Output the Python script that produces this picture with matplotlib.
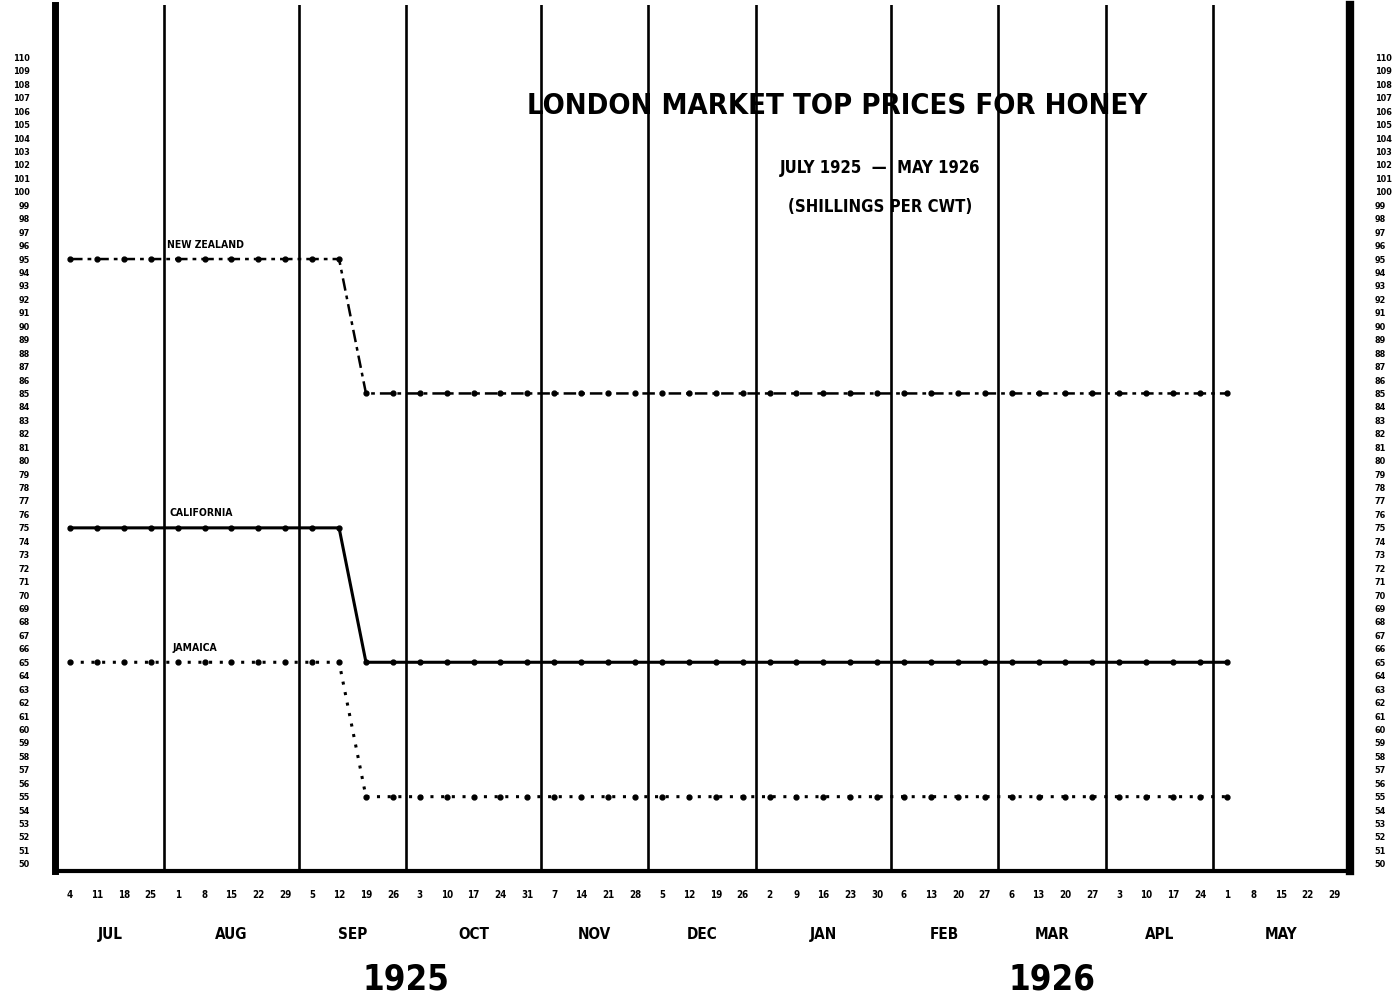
import matplotlib
matplotlib.use("Agg")
import matplotlib.pyplot as plt

# Narrow bold lettering, closest to the hand-drawn original
plt.rcParams['font.family'] = ['DejaVu Sans']
plt.rcParams['font.stretch'] = 'condensed'
plt.rcParams['font.weight'] = 'bold'

# Saturdays, July 1925 - May 1926 (one tick per week)
day_labels = [4, 11, 18, 25,
              1, 8, 15, 22, 29,
              5, 12, 19, 26,
              3, 10, 17, 24, 31,
              7, 14, 21, 28,
              5, 12, 19, 26,
              2, 9, 16, 23, 30,
              6, 13, 20, 27,
              6, 13, 20, 27,
              3, 10, 17, 24,
              1, 8, 15, 22, 29]
months = ['JUL', 'AUG', 'SEP', 'OCT', 'NOV', 'DEC', 'JAN', 'FEB', 'MAR', 'APL', 'MAY']
weeks_per_month = [4, 5, 4, 5, 4, 4, 5, 4, 4, 4, 5]
years = ['1925', '1926']
months_per_year = [6, 5]

# Top prices, shillings per cwt, weekly from 4 Jul 1925 to 1 May 1926
new_zealand = [95, 95, 95, 95, 95, 95, 95, 95, 95, 95, 95,
               85, 85, 85, 85, 85, 85, 85, 85, 85, 85, 85,
               85, 85, 85, 85, 85, 85, 85, 85, 85, 85, 85,
               85, 85, 85, 85, 85, 85, 85, 85, 85, 85, 85]
california = [75, 75, 75, 75, 75, 75, 75, 75, 75, 75, 75,
              65, 65, 65, 65, 65, 65, 65, 65, 65, 65, 65,
              65, 65, 65, 65, 65, 65, 65, 65, 65, 65, 65,
              65, 65, 65, 65, 65, 65, 65, 65, 65, 65, 65]
jamaica = [65, 65, 65, 65, 65, 65, 65, 65, 65, 65, 65,
           55, 55, 55, 55, 55, 55, 55, 55, 55, 55, 55,
           55, 55, 55, 55, 55, 55, 55, 55, 55, 55, 55,
           55, 55, 55, 55, 55, 55, 55, 55, 55, 55, 55]

weeks = list(range(len(day_labels)))

fig = plt.figure(figsize=(13.92, 10.01), dpi=100)
ax = fig.add_axes([0.0395, 0.13, 0.930, 0.865])

# Price lines
ax.plot(weeks[:len(new_zealand)], new_zealand, color='black', lw=1.8,
        linestyle=(0, (5, 2, 1.5, 2)), marker='o', ms=3.5)
ax.plot(weeks[:len(california)], california, color='black', lw=2.2,
        linestyle='-', marker='o', ms=3.5)
ax.plot(weeks[:len(jamaica)], jamaica, color='black', lw=2.2,
        linestyle=(0, (1, 2.5)), marker='o', ms=3.5)

# Series names
ax.text(3.6, 95.7, 'NEW ZEALAND', fontsize=7.5, ha='left', va='bottom')
ax.text(3.7, 75.7, 'CALIFORNIA', fontsize=7.5, ha='left', va='bottom')
ax.text(3.8, 65.7, 'JAMAICA', fontsize=7.5, ha='left', va='bottom')

# Vertical lines between months
start = 0
for n in weeks_per_month[:-1]:
    start += n
    ax.axvline(start - 0.5, color='black', lw=1.9)

# Titles
ax.text(28.5, 106.4, 'LONDON MARKET TOP PRICES FOR HONEY', fontsize=21,
        ha='center', va='center')
ax.text(30.1, 101.8, 'JULY 1925  —  MAY 1926', fontsize=12,
        ha='center', va='center')
ax.text(30.1, 98.85, '(SHILLINGS PER CWT)', fontsize=12,
        ha='center', va='center')

ax.set_xlim(-0.56, 47.56)
ax.set_ylim(49.48, 113.9)

# Weekly day ticks
ax.set_xticks(weeks)
ax.set_xticklabels(day_labels, fontsize=7)
ax.tick_params(axis='x', length=0, pad=14)

# Price ticks on both sides
ax.set_yticks(range(50, 111))
ax.set_yticklabels(range(50, 111), fontsize=6.5)
ax.tick_params(axis='y', length=0, pad=18, labelleft=True, labelright=True)

# Month names under their weeks
start = 0
for name, n in zip(months, weeks_per_month):
    ax.text(start + (n - 1) / 2, -0.073, name, fontsize=11,
            ha='center', va='center', transform=ax.get_xaxis_transform())
    start += n

# Years under their months
start = 0
m = 0
for year, k in zip(years, months_per_year):
    n = sum(weeks_per_month[m:m + k])
    ax.text(start + (n - 1) / 2, -0.125, year, fontsize=25,
            ha='center', va='center', transform=ax.get_xaxis_transform())
    start += n
    m += k

# Heavy frame on left, right and bottom
ax.spines['top'].set_visible(False)
ax.spines['left'].set_linewidth(5)
ax.spines['right'].set_linewidth(6)
ax.spines['bottom'].set_linewidth(3)

fig.savefig('out.png', dpi=100)
